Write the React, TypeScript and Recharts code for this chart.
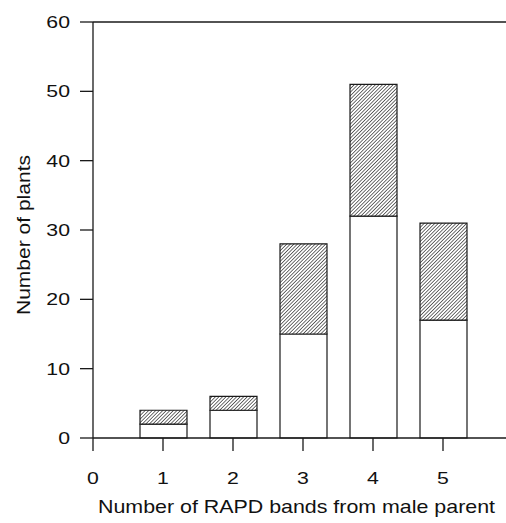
import React from 'react';
import { BarChart, Bar, XAxis, YAxis, ReferenceLine, Label } from 'recharts';

const bands = [1, 2, 3, 4, 5];
const plainCounts = [2, 4, 15, 32, 17];
const hatchedCounts = [2, 2, 13, 19, 14];
const xTicks = [0, 1, 2, 3, 4, 5];
const yTicks = [0, 10, 20, 30, 40, 50, 60];

const data = bands.map((b, i) => ({ band: b, plain: plainCounts[i], hatched: hatchedCounts[i] }));

const font = 'Liberation Sans, Arial, Helvetica, sans-serif';
const ink = '#1a1a1a';

// the scanned figure is a little wider than tall, so glyphs get stretched sideways
const StretchedTick = (props: any) => {
  const { x, y, payload, orientation } = props;
  const isX = orientation === 'bottom';
  return (
    <text
      transform={`translate(${x},${y}) scale(1.25,1)`}
      dy={isX ? '0.71em' : '0.355em'}
      textAnchor={isX ? 'middle' : 'end'}
      fontSize={17}
      fontFamily={font}
      fill="#111"
    >
      {payload.value}
    </text>
  );
};

export default function App() {
  return (
    <div style={{ position: 'absolute', left: 0, top: 0, background: '#fff' }}>
      <BarChart width={506} height={523} data={data} margin={{ top: 22, right: 0, bottom: 0, left: 0 }}>
        <defs>
          <pattern id="hatch" patternUnits="userSpaceOnUse" width="2.5" height="2.5" patternTransform="rotate(45)">
            <rect width="2.5" height="2.5" fill="#fff" />
            <line x1="0" y1="0" x2="0" y2="2.5" stroke="#222" strokeWidth="1.3" />
          </pattern>
        </defs>
        <XAxis
          dataKey="band"
          type="number"
          domain={[0, 5.9]}
          allowDataOverflow
          ticks={xTicks}
          height={85}
          tickSize={13}
          tickMargin={21}
          stroke={ink}
          strokeWidth={1.3}
          tick={<StretchedTick />}
        >
          <Label
            content={() => (
              <text
                x={98}
                y={513}
                textLength={397}
                lengthAdjust="spacingAndGlyphs"
                fontSize={19}
                fontFamily={font}
                fill="#111"
              >
                Number of RAPD bands from male parent
              </text>
            )}
          />
        </XAxis>
        <YAxis
          type="number"
          domain={[0, 60]}
          ticks={yTicks}
          width={93}
          tickSize={13}
          tickMargin={10}
          stroke={ink}
          strokeWidth={1.3}
          tick={<StretchedTick />}
        >
          <Label
            content={() => (
              <text
                x={30}
                y={315}
                transform="rotate(-90 30 315)"
                textLength={160}
                lengthAdjust="spacingAndGlyphs"
                fontSize={19}
                fontFamily={font}
                fill="#111"
              >
                Number of plants
              </text>
            )}
          />
        </YAxis>
        <ReferenceLine y={60} stroke={ink} strokeWidth={1.3} />
        <Bar dataKey="plain" stackId="a" barSize={47} fill="#fff" stroke={ink} strokeWidth={1.2} isAnimationActive={false} />
        <Bar dataKey="hatched" stackId="a" barSize={47} fill="url(#hatch)" stroke={ink} strokeWidth={1.2} isAnimationActive={false} />
      </BarChart>
    </div>
  );
}
